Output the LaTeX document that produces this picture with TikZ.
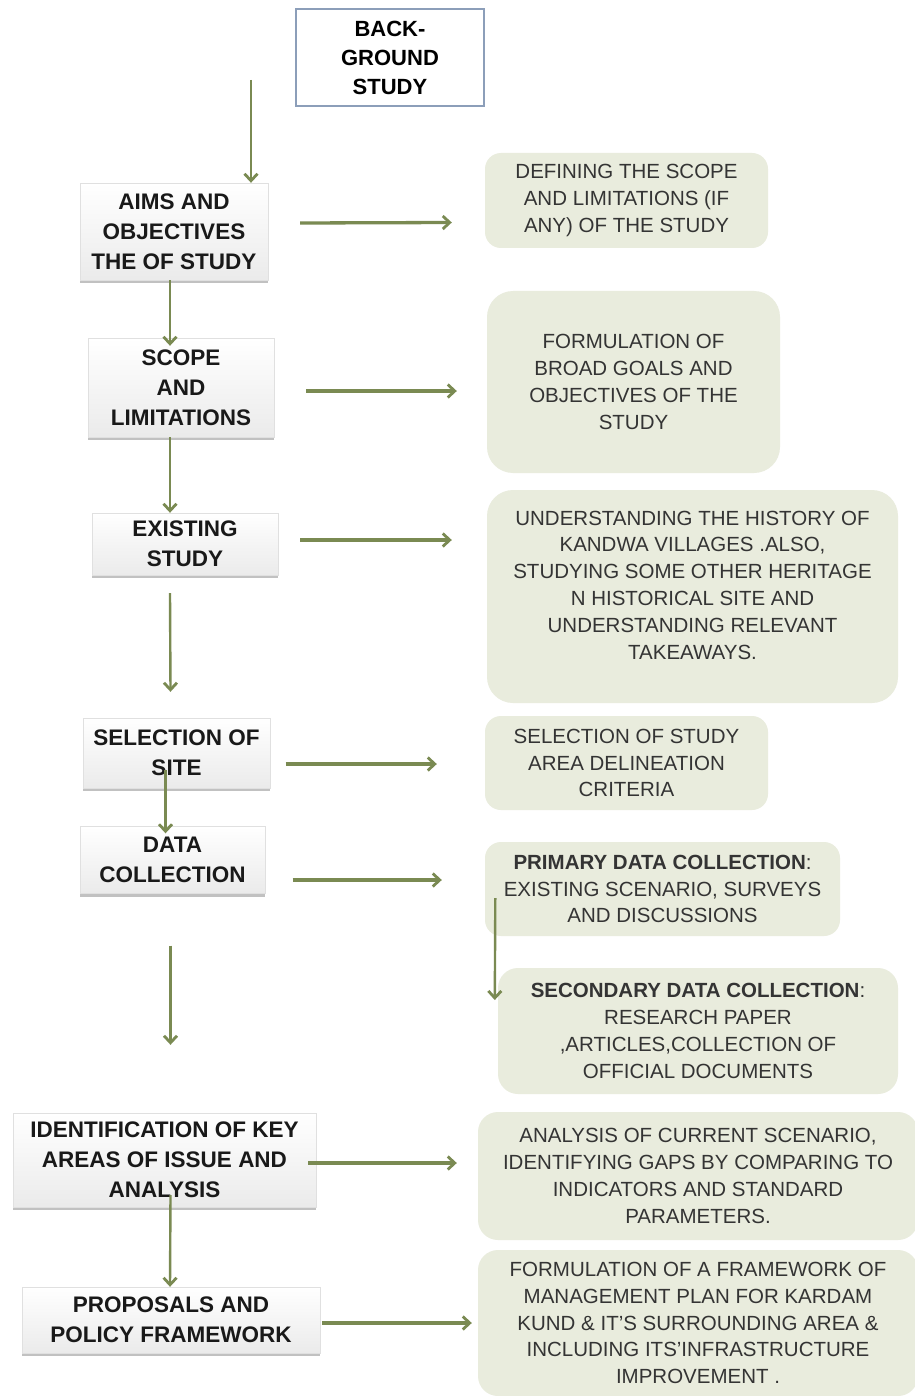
\documentclass[tikz,border=0pt]{standalone}
\usepackage{fontspec}
\setmainfont{Liberation Sans}
\usetikzlibrary{arrows.meta,shadows,calc}
\definecolor{boxgreen}{RGB}{233,236,221}
\definecolor{arrowgreen}{RGB}{122,138,82}
\definecolor{textgray}{RGB}{52,52,52}
\definecolor{bgborder}{RGB}{140,158,185}
\tikzset{
  leftbox/.style={rectangle, draw=black!12, top color=white, bottom color=black!8,
    drop shadow={shadow xshift=0pt, shadow yshift=-3pt, opacity=0.6, fill=black!40},
    font=\bfseries\fontsize{22.5}{30}\selectfont, text=black!90, align=center, inner sep=0pt},
  rightbox/.style={rectangle, rounded corners=16pt, fill=boxgreen, align=center, inner sep=0pt,
    font=\fontsize{20.5}{26.8}\selectfont, text=textgray},
  righttext/.style={align=center, inner sep=0pt, font=\fontsize{20.5}{26.8}\selectfont, text=textgray},
  arr/.style={draw=arrowgreen, line width=2.4pt, -{Straight Barb[length=7pt,width=13pt,line width=2.8pt]}},
  harr/.style={arr, line width=3.3pt},
}
\begin{document}
\begin{tikzpicture}[x=1pt,y=-1pt]
\useasboundingbox[fill=white] (0,0) rectangle (914,1396);

% top box
\node[rectangle, draw=bgborder, line width=1.2pt, fill=white, minimum width=188pt, minimum height=97pt,
  font=\bfseries\fontsize{22}{29}\selectfont, align=center, inner sep=0pt] (bg) at (390,57.5) {BACK-\\GROUND\\STUDY};

% left column
\node[leftbox, minimum width=188pt, minimum height=97pt] (aims) at (174,231.5) {AIMS AND\\OBJECTIVES\\THE OF STUDY};
\node[leftbox, minimum width=186pt, minimum height=99pt] (scope) at (181,387.5) {SCOPE\\AND\\LIMITATIONS};
\node[leftbox, minimum width=186pt, minimum height=62pt] (exist) at (185,544) {EXISTING\\STUDY};
\node[leftbox, minimum width=187pt, minimum height=70pt] (select) at (176.5,753) {SELECTION OF\\SITE};
\node[leftbox, minimum width=185pt, minimum height=67pt] (data) at (172.5,860) {DATA\\COLLECTION};
\node[leftbox, minimum width=303pt, minimum height=94pt] (ident) at (164.5,1160) {IDENTIFICATION OF KEY\\AREAS OF ISSUE AND\\ANALYSIS};
\node[leftbox, minimum width=298pt, minimum height=66pt] (prop) at (171,1320) {PROPOSALS AND\\POLICY FRAMEWORK};

% right column
\node[rightbox, minimum width=283pt, minimum height=95pt] (r1) at (626.5,200.5) {DEFINING THE SCOPE\\AND LIMITATIONS (IF\\ANY) OF THE STUDY};
\node[rightbox, rounded corners=26pt, minimum width=293pt, minimum height=182pt] (r2) at (633.5,382) {FORMULATION OF\\BROAD GOALS AND\\OBJECTIVES OF THE\\STUDY};
\node[rightbox, rounded corners=26pt, minimum width=411pt, minimum height=213pt] (r3) at (692.5,596.5) {};
\node[righttext] (r3t) at (692.5,585) {UNDERSTANDING THE HISTORY OF\\KANDWA VILLAGES .ALSO,\\STUDYING SOME OTHER HERITAGE\\N HISTORICAL SITE AND\\UNDERSTANDING RELEVANT\\TAKEAWAYS.};
\node[rightbox, minimum width=283pt, minimum height=94pt] (r4) at (626.5,763) {SELECTION OF STUDY\\AREA DELINEATION\\CRITERIA};
\node[rightbox, minimum width=355pt, minimum height=94pt] (r5) at (662.5,889) {\textbf{PRIMARY DATA COLLECTION}:\\EXISTING SCENARIO, SURVEYS\\AND DISCUSSIONS};
\node[rightbox, rounded corners=20pt, minimum width=400pt, minimum height=126pt] (r6) at (698,1031) {\textbf{SECONDARY DATA COLLECTION}:\\RESEARCH PAPER\\,ARTICLES,COLLECTION OF\\OFFICIAL DOCUMENTS};
\node[rightbox, rounded corners=20pt, minimum width=440pt, minimum height=128pt] (r7) at (698,1176) {ANALYSIS OF CURRENT SCENARIO,\\IDENTIFYING GAPS BY COMPARING TO\\INDICATORS AND STANDARD\\PARAMETERS.};
\node[rightbox, rounded corners=20pt, minimum width=440pt, minimum height=146pt] (r8) at (698,1323) {FORMULATION OF A FRAMEWORK OF\\MANAGEMENT PLAN FOR KARDAM\\KUND \& IT'S SURROUNDING AREA \&\\INCLUDING ITS'INFRASTRUCTURE\\IMPROVEMENT .};

% vertical arrows
\coordinate (a0s) at (251,80);
\draw[arr] (a0s) -- (a0s |- aims.north);
\draw[arr] ($(aims.south)+(-4,0)$) -- ($(scope.north)+(-11,8)$);
\draw[arr] ($(scope.south)+(-11,0)$) -- ($(exist.north)+(-15,0)$);
\draw[arr] ($(exist.south)+(-15,18)$) -- ($(select.north)+(-6,-26)$);
\draw[arr] ($(select.center)+(-11,17)$) -- ($(data.north)+(-7,7)$);
\draw[arr] ($(data.south)+(-2,52)$) -- ($(ident.north)+(6,-68)$);
\draw[arr] ($(ident.center)+(6,35)$) -- ($(prop.north)+(-1,0)$);
\draw[arr] ($(r5.west)+(10.5,9)$) -- ($(r6.west)+(-3,-31)$);

% horizontal arrows
\draw[harr] ($(aims.east)+(32,-8.5)$) -- ($(r1.west)+(-33,22)$);
\draw[harr] ($(scope.east)+(32,3.5)$) -- ($(r2.west)+(-30,9)$);
\draw[harr] ($(exist.east)+(22,-4)$) -- ($(r3.west)+(-35,-56.5)$);
\draw[harr] ($(select.east)+(15.5,11)$) -- ($(r4.west)+(-48,1)$);
\draw[harr] ($(data.east)+(27.5,20)$) -- ($(r5.west)+(-43,-9)$);
\draw[harr] ($(ident.east)+(-8,3)$) -- ($(r7.west)+(-21,-13)$);
\draw[harr] ($(prop.east)+(2,3)$) -- ($(r8.west)+(-6,0)$);
\end{tikzpicture}
\end{document}
